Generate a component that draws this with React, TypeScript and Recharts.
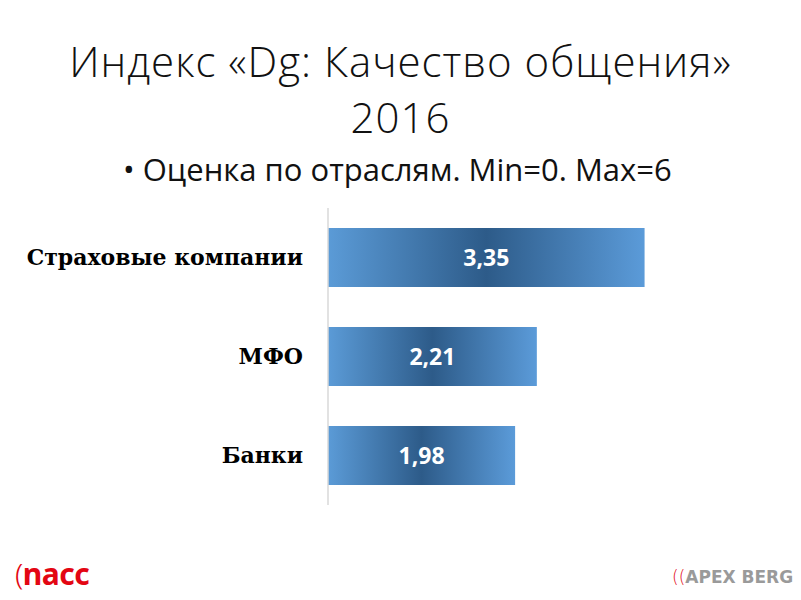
import { Bar, BarChart, LabelList, XAxis, YAxis } from "recharts";

const categories = ["Страховые компании", "МФО", "Банки"];
const scores = [3.35, 2.21, 1.98];

const chartData = categories.map((name, i) => ({ name, score: scores[i] }));

const titleLines = ["Индекс «Dg: Качество общения»", "2016"];
const subtitle = "Оценка по отраслям. Min=0. Max=6";

const fmt = (v: number) => v.toFixed(2).replace(".", ",");

export default function App() {
  return (
    <div
      style={{
        position: "absolute",
        left: 0,
        top: 0,
        width: 801,
        height: 600,
        background: "#fff",
        overflow: "hidden",
        fontFamily: "'Open Sans', sans-serif",
      }}
    >
      {titleLines.map((t, i) => (
        <div
          key={t}
          style={{
            position: "absolute",
            top: 32 + i * 56,
            left: 0,
            width: 801,
            height: 57,
            textAlign: "center",
            fontSize: 42,
            fontWeight: 300,
            letterSpacing: 1,
            lineHeight: "57px",
            color: "#111",
          }}
        >
          {t}
        </div>
      ))}
      <div
        style={{
          position: "absolute",
          top: 149,
          left: 123,
          fontSize: 31,
          color: "#111",
          lineHeight: "40px",
          whiteSpace: "nowrap",
        }}
      >
        • {subtitle}
      </div>

      <div style={{ position: "absolute", left: 0, top: 0 }}>
        <BarChart
          width={801}
          height={600}
          data={chartData}
          layout="vertical"
          margin={{ top: 208, right: 95, bottom: 95, left: 0 }}
          barCategoryGap={20}
        >
          <defs>
            <linearGradient id="barGrad" x1="0" y1="0" x2="1" y2="0">
              <stop offset="0%" stopColor="#5b9bd7" />
              <stop offset="50%" stopColor="#2d5b89" />
              <stop offset="100%" stopColor="#5b9bd9" />
            </linearGradient>
          </defs>
          <XAxis type="number" domain={[0, 4]} hide />
          <YAxis
            type="category"
            dataKey="name"
            width={328}
            axisLine={{ stroke: "#d9d9d9", strokeWidth: 1.5 }}
            tickLine={false}
            tickMargin={19}
            tick={{
              fill: "#000",
              fontSize: 22,
              fontWeight: 700,
              fontFamily: "'DejaVu Serif', serif",
            }}
          />
          <Bar dataKey="score" fill="url(#barGrad)" barSize={59} isAnimationActive={false}>
            <LabelList
              dataKey="score"
              position="center"
              formatter={(v: number) => fmt(v)}
              fill="#fff"
              fontSize={23}
              fontWeight={700}
              fontFamily="'Open Sans', sans-serif"
            />
          </Bar>
        </BarChart>
      </div>

      <div
        style={{
          position: "absolute",
          left: 15,
          top: 556,
          fontFamily: "'Noto Sans', sans-serif",
          fontSize: 30,
          fontWeight: 700,
          color: "#e30613",
          lineHeight: "36px",
          letterSpacing: -0.5,
        }}
      >
        <span style={{ fontWeight: 300 }}>(</span>nacc
      </div>
      <div
        style={{
          position: "absolute",
          left: 672,
          top: 563,
          fontFamily: "'DejaVu Sans', sans-serif",
          fontSize: 17,
          fontWeight: 700,
          color: "#9a9a9a",
          lineHeight: "28px",
          whiteSpace: "nowrap",
        }}
      >
        <span style={{ color: "#e30613", fontWeight: 300 }}>((</span>APEX BERG
      </div>
    </div>
  );
}
